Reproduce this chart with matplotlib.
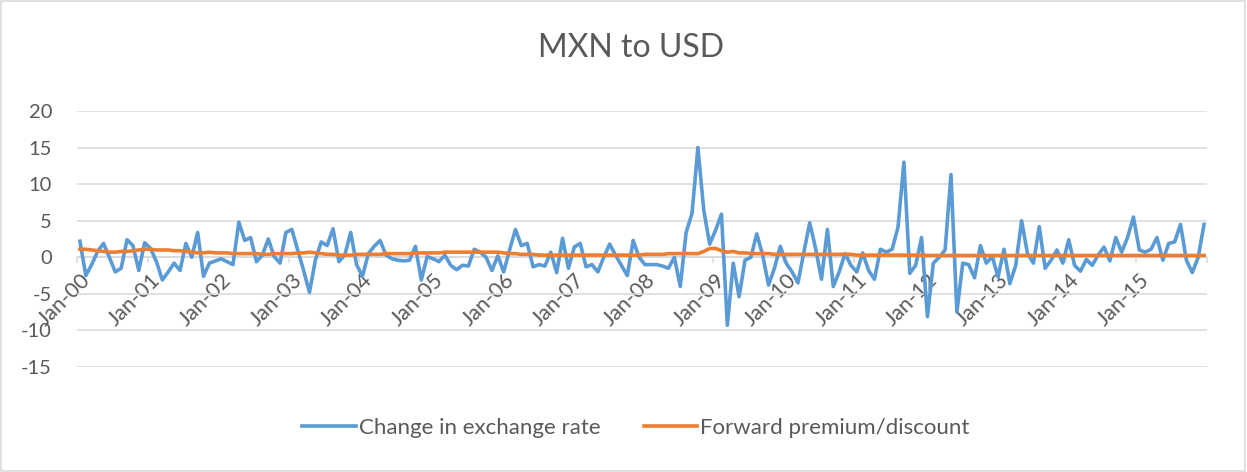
import matplotlib
matplotlib.use("Agg")
import matplotlib.pyplot as plt
import matplotlib.patches as patches
import numpy as np

plt.rcParams['font.family'] = ['Lato', 'DejaVu Sans']

# monthly observations, Jan-00 .. Dec-15
change_rate = [
    2.2, -2.5, -1.0, 0.8, 1.9, 0.0, -2.0, -1.5, 2.4, 1.6, -1.8, 2.0,        # 2000
    1.2, -0.6, -3.1, -2.0, -0.8, -1.8, 1.9, 0.0, 3.4, -2.6, -0.8, -0.5,     # 2001
    -0.2, -0.6, -1.0, 4.8, 2.3, 2.7, -0.6, 0.3, 2.5, 0.1, -0.8, 3.4,        # 2002
    3.8, 1.0, -1.8, -4.8, -0.4, 2.1, 1.6, 3.9, -0.6, 0.3, 3.4, -1.0,        # 2003
    -2.6, 0.5, 1.5, 2.3, 0.3, -0.2, -0.4, -0.5, -0.4, 1.5, -3.1, 0.1,       # 2004
    -0.2, -0.6, 0.3, -1.1, -1.7, -1.1, -1.2, 1.1, 0.7, 0.0, -1.8, 0.2,      # 2005
    -2.0, 1.0, 3.8, 1.6, 1.9, -1.3, -1.0, -1.2, 0.7, -2.1, 2.6, -1.5,       # 2006
    1.4, 1.9, -1.3, -1.0, -2.0, 0.0, 1.8, 0.3, -1.1, -2.5, 2.3, 0.0,        # 2007
    -1.0, -1.0, -1.0, -1.2, -1.5, 0.0, -4.0, 3.4, 6.0, 15.0, 6.4, 1.8,      # 2008
    3.7, 5.9, -9.3, -0.8, -5.4, -0.4, 0.0, 3.2, 0.3, -3.8, -1.5, 1.5,       # 2009
    -0.8, -2.0, -3.5, 0.7, 4.7, 1.2, -3.0, 3.8, -4.0, -2.0, 0.5, -1.1,      # 2010
    -2.0, 0.6, -1.8, -3.0, 1.1, 0.7, 1.1, 4.1, 13.0, -2.2, -1.1, 2.7,       # 2011
    -8.1, -0.8, 0.0, 1.0, 11.3, -7.5, -0.8, -1.0, -2.8, 1.6, -0.8, 0.1,     # 2012
    -2.7, 1.1, -3.6, -1.1, 5.0, 0.5, -0.8, 4.2, -1.5, -0.4, 1.0, -0.8,      # 2013
    2.4, -1.1, -1.9, -0.3, -1.1, 0.3, 1.4, -0.5, 2.7, 0.7, 2.7, 5.5,        # 2014
    1.0, 0.7, 1.1, 2.7, -0.4, 1.9, 2.1, 4.5, -0.4, -2.1, 0.0, 4.5,          # 2015
]

forward_premium = [
    1.1, 1.1, 1.0, 0.9, 0.8, 0.7, 0.7, 0.8, 0.8, 0.9, 1.0, 1.1,
    1.1, 1.0, 1.0, 1.0, 0.9, 0.9, 0.8, 0.7, 0.6, 0.6, 0.7, 0.6,
    0.6, 0.6, 0.5, 0.5, 0.5, 0.5, 0.5, 0.4, 0.4, 0.5, 0.5, 0.5,
    0.5, 0.6, 0.6, 0.7, 0.6, 0.5, 0.4, 0.4, 0.3, 0.3, 0.3, 0.4,
    0.4, 0.4, 0.4, 0.4, 0.5, 0.5, 0.5, 0.5, 0.5, 0.6, 0.6, 0.6,
    0.6, 0.6, 0.7, 0.7, 0.7, 0.7, 0.7, 0.7, 0.7, 0.7, 0.7, 0.7,
    0.6, 0.5, 0.5, 0.4, 0.4, 0.4, 0.3, 0.3, 0.3, 0.3, 0.3, 0.3,
    0.3, 0.3, 0.3, 0.3, 0.3, 0.3, 0.3, 0.3, 0.3, 0.3, 0.3, 0.3,
    0.4, 0.4, 0.4, 0.4, 0.5, 0.5, 0.5, 0.5, 0.5, 0.5, 0.8, 1.2,
    1.2, 0.9, 0.7, 0.8, 0.6, 0.6, 0.5, 0.5, 0.5, 0.5, 0.4, 0.4,
    0.4, 0.4, 0.4, 0.4, 0.4, 0.4, 0.4, 0.4, 0.4, 0.4, 0.4, 0.4,
    0.3, 0.3, 0.3, 0.3, 0.3, 0.3, 0.3, 0.3, 0.3, 0.3, 0.3, 0.3,
    0.25, 0.25, 0.25, 0.25, 0.25, 0.25, 0.25, 0.25, 0.25, 0.25, 0.25, 0.25,
    0.25, 0.25, 0.25, 0.25, 0.25, 0.25, 0.25, 0.25, 0.25, 0.25, 0.25, 0.25,
    0.25, 0.25, 0.25, 0.25, 0.25, 0.25, 0.25, 0.25, 0.25, 0.25, 0.25, 0.25,
    0.25, 0.25, 0.25, 0.25, 0.25, 0.25, 0.25, 0.25, 0.25, 0.25, 0.25, 0.25,
]

years = list(range(2000, 2016))
tick_labels = ['Jan-%02d' % (y % 100) for y in years]
y_ticks = [-15, -10, -5, 0, 5, 10, 15, 20]

grey = '#595959'
grid_grey = '#d9d9d9'

fig = plt.figure(figsize=(12.47, 4.72), dpi=100)
ax = fig.add_axes([77 / 1247, 1 - 367 / 472, 1130 / 1247, 256 / 472])

x = np.arange(len(change_rate))
ax.plot(x, change_rate, color='#5B9BD5', linewidth=2.6, label='Change in exchange rate',
        solid_joinstyle='round', zorder=3)
ax.plot(x, forward_premium, color='#ED7D31', linewidth=2.6, label='Forward premium/discount',
        solid_joinstyle='round', zorder=4)

ax.set_xlim(-0.5, len(change_rate) - 0.5)
ax.set_ylim(-15, 20)
ax.set_yticks(y_ticks)
ax.set_yticklabels([str(v) for v in y_ticks])
ax.grid(axis='y', color=grid_grey, linewidth=1.1, zorder=0)
ax.set_axisbelow(True)

for s in ['top', 'right', 'left']:
    ax.spines[s].set_visible(False)
ax.spines['bottom'].set_position(('data', 0))
ax.spines['bottom'].set_color(grid_grey)
ax.spines['bottom'].set_linewidth(1.1)
ax.spines['bottom'].set_zorder(1)

ax.set_xticks([12 * i for i in range(len(years))])
ax.set_xticklabels(tick_labels, rotation=45, ha='right', va='top', rotation_mode='anchor')
ax.set_xticks([12 * i - 0.5 for i in range(len(years) + 1)], minor=True)
ax.tick_params(axis='x', which='major', length=0, pad=9, labelsize=15.5, labelcolor=grey)
ax.tick_params(axis='x', which='minor', length=4.5, width=1.1, color=grid_grey, direction='out')
ax.tick_params(axis='y', length=0, pad=18, labelsize=14.5, labelcolor=grey)

fig.suptitle('MXN to USD', x=631 / 1247, y=1 - 48 / 472, va='center', fontsize=23, color=grey)

leg = fig.legend(loc='center', bbox_to_anchor=(636 / 1247, 1 - 428 / 472), ncol=2, frameon=False,
                 fontsize=16, handlelength=2.4, handletextpad=0.15, columnspacing=1.95)
for t in leg.get_texts():
    t.set_color(grey)

fig.patches.append(patches.Rectangle((0.001, 0.002), 0.997, 0.995, transform=fig.transFigure,
                                     fill=False, edgecolor=grid_grey, linewidth=1.2))

fig.savefig('out.png', dpi=100, facecolor='white')
